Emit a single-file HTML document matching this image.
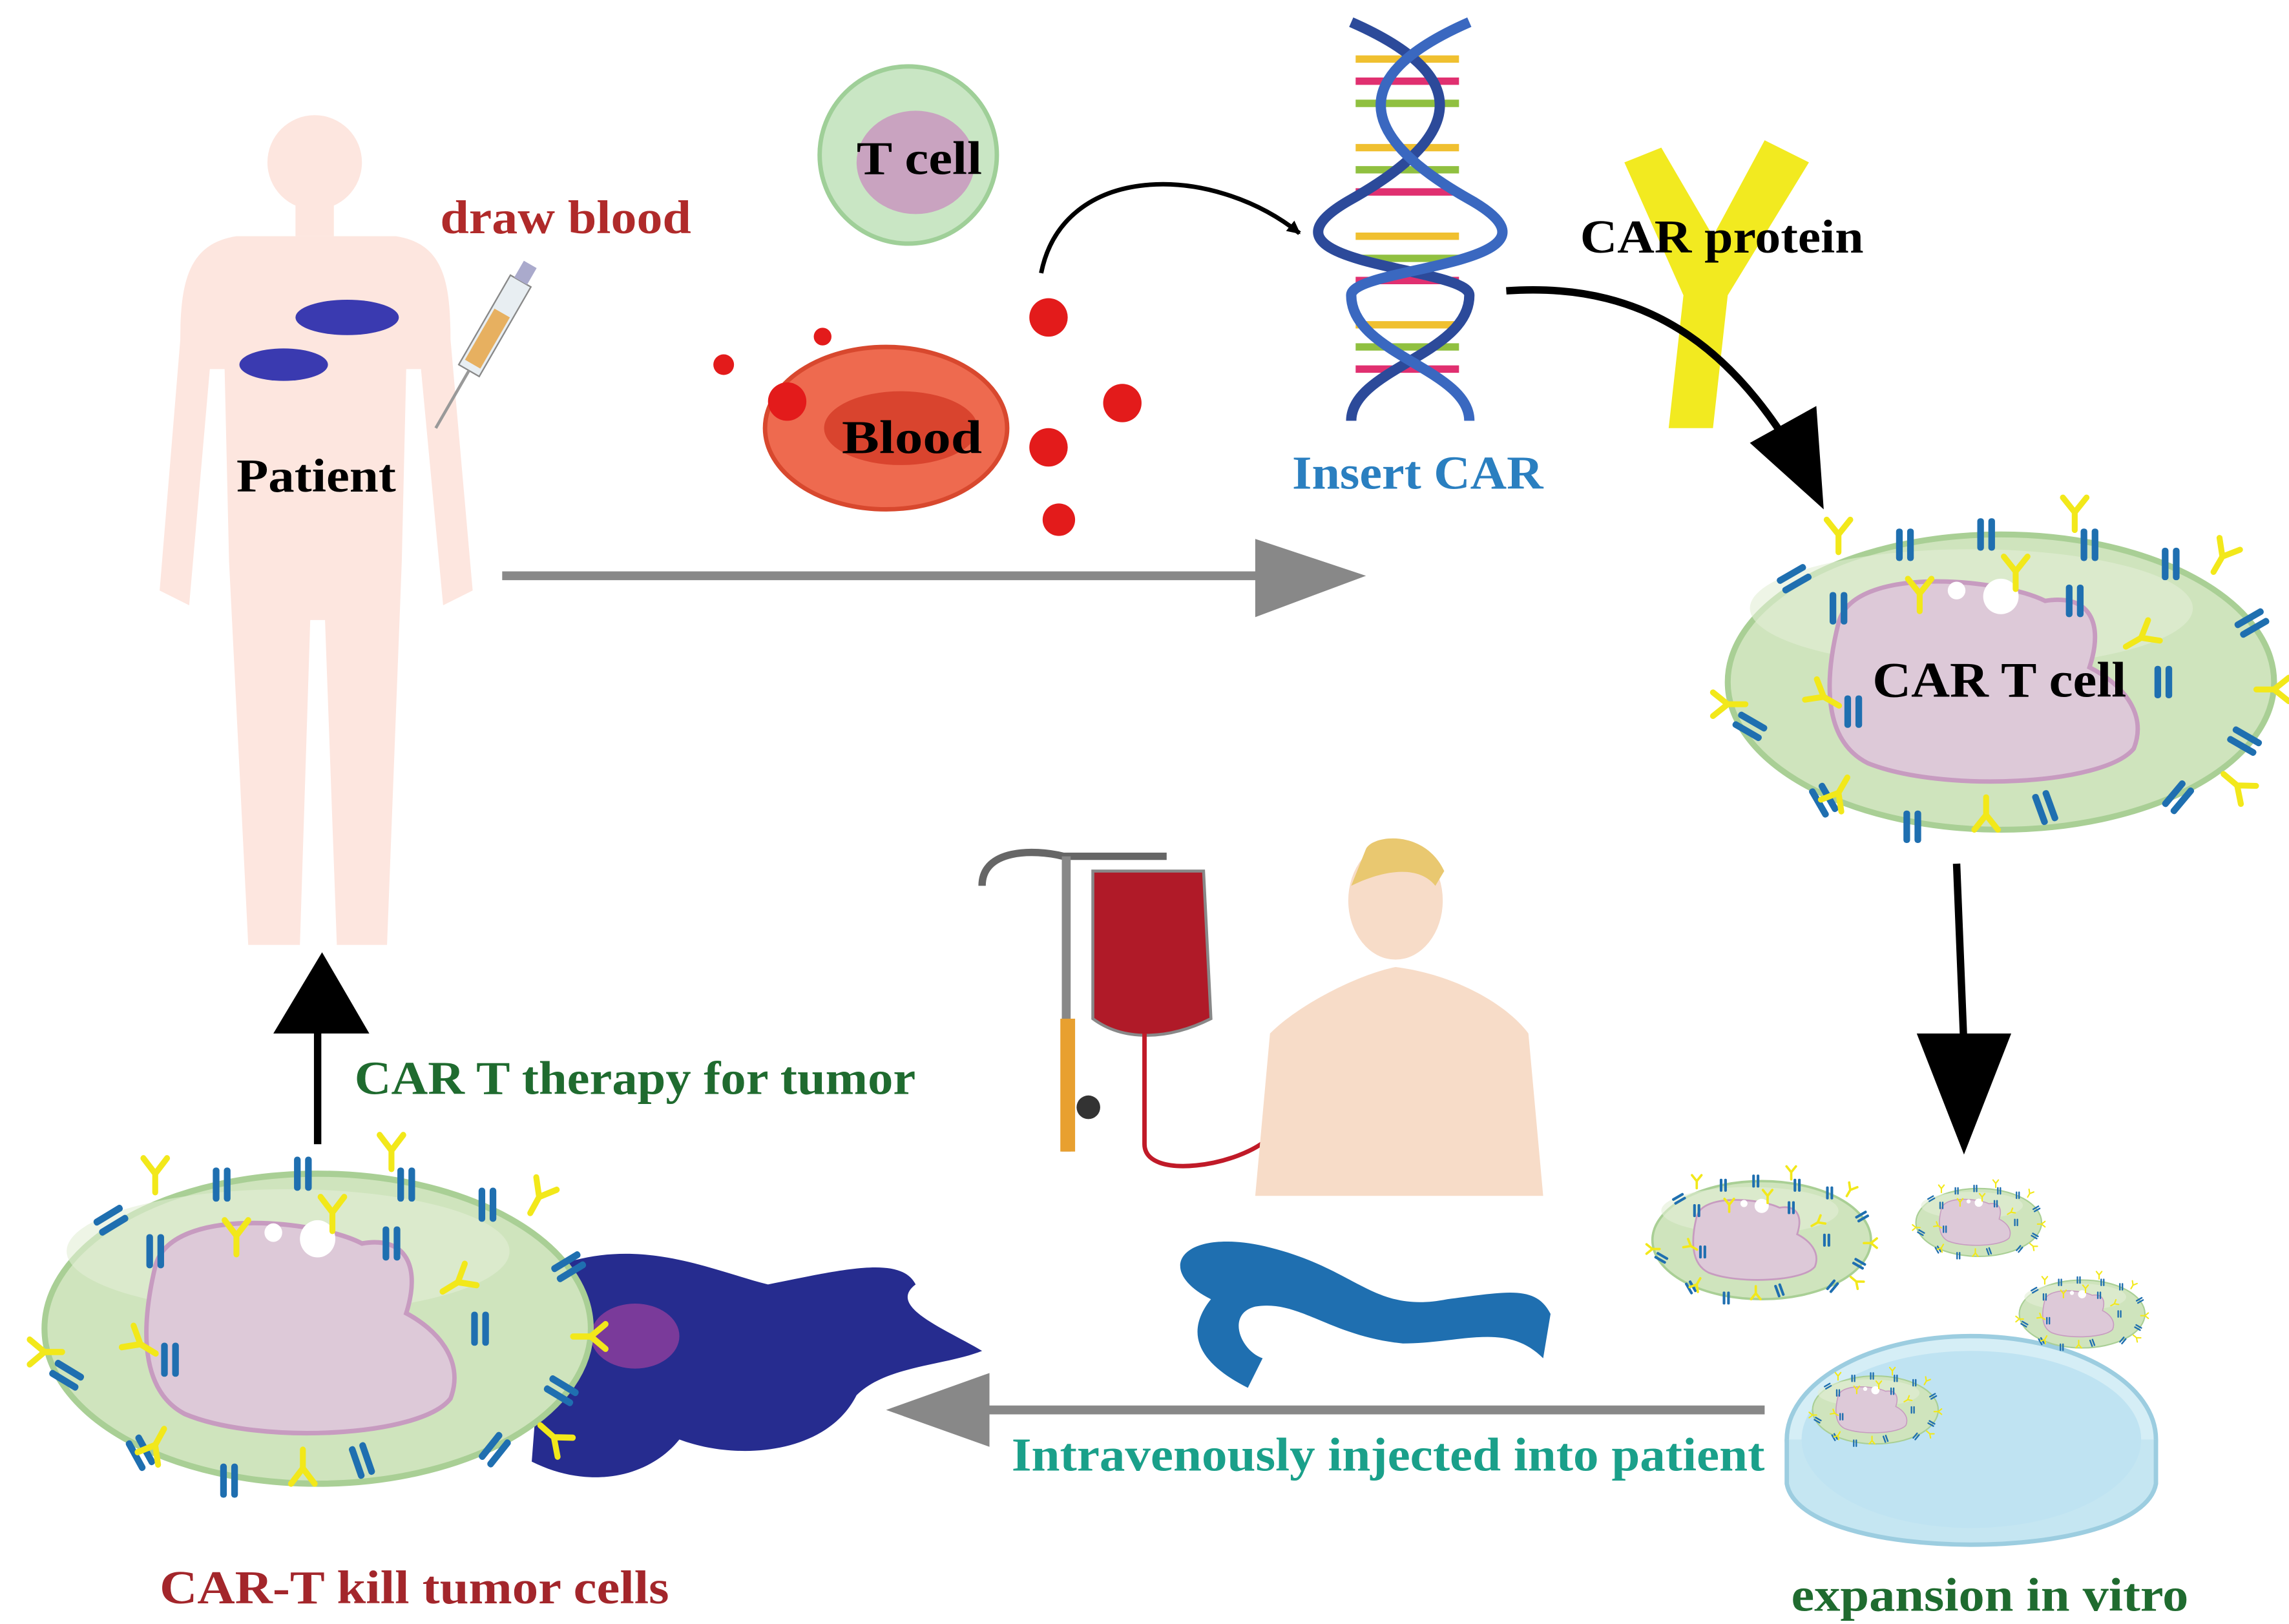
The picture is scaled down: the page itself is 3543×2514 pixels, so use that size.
<!DOCTYPE html>
<html><head><meta charset="utf-8"><style>
html,body{margin:0;padding:0;background:#fff;}
svg{display:block;}
text{font-family:"Liberation Serif",serif;font-weight:bold;}
</style></head><body>
<svg width="3543" height="2514" viewBox="0 0 1550 1100" xmlns="http://www.w3.org/2000/svg">
<defs>
<marker id="bk" viewBox="0 0 10 10" refX="9" refY="5" markerWidth="3" markerHeight="3" orient="auto"><path d="M0,0 L10,5 L0,10 z" fill="#000"/></marker>
<g id="rb"><rect x="-6" y="-11" width="4.5" height="22" rx="2" fill="#1f6fb0"/><rect x="1.5" y="-11" width="4.5" height="22" rx="2" fill="#1f6fb0"/></g>
<g id="ry"><path d="M0,12 L0,0 L-8,-10 M0,0 L8,-10" stroke="#f2e81a" stroke-width="4" fill="none" stroke-linecap="round"/></g>
<g id="cell">
 <ellipse cx="0" cy="0" rx="185" ry="100" fill="#cfe4bd" stroke="#a9cf95" stroke-width="4"/>
 <ellipse cx="-20" cy="-50" rx="150" ry="40" fill="#e2efd6" opacity="0.6"/>
 <path d="M-110,-40 C-100,-80 0,-70 30,-55 C60,-60 70,-40 60,-10 C80,0 100,20 90,45 C70,70 -40,75 -90,55 C-120,40 -120,0 -110,-40z" fill="#ddc9d8" stroke="#c79bc0" stroke-width="3"/>
 <circle cx="0" cy="-58" r="12" fill="#fff"/><circle cx="-30" cy="-62" r="6" fill="#fff"/>
 <use href="#rb" transform="translate(-140,-70) rotate(60)"/><use href="#rb" transform="translate(-65,-93)"/><use href="#rb" transform="translate(-10,-100)"/>
 <use href="#rb" transform="translate(60,-93)"/><use href="#rb" transform="translate(115,-80)"/><use href="#rb" transform="translate(170,-40) rotate(60)"/>
 <use href="#rb" transform="translate(-170,30) rotate(-60)"/><use href="#rb" transform="translate(-120,80) rotate(-30)"/><use href="#rb" transform="translate(-60,98)"/>
 <use href="#rb" transform="translate(30,85) rotate(-20)"/><use href="#rb" transform="translate(120,78) rotate(40)"/><use href="#rb" transform="translate(165,40) rotate(-60)"/>
 <use href="#rb" transform="translate(-110,-50)"/><use href="#rb" transform="translate(50,-55)"/><use href="#rb" transform="translate(110,0)"/><use href="#rb" transform="translate(-100,20)"/>
 <use href="#ry" transform="translate(-110,-100)"/><use href="#ry" transform="translate(50,-115)"/><use href="#ry" transform="translate(150,-85) rotate(30)"/>
 <use href="#ry" transform="translate(-185,15) rotate(-90)"/><use href="#ry" transform="translate(-110,75) rotate(-150)"/><use href="#ry" transform="translate(-10,90) rotate(180)"/>
 <use href="#ry" transform="translate(160,70) rotate(130)"/><use href="#ry" transform="translate(185,5) rotate(90)"/><use href="#ry" transform="translate(-55,-60)"/><use href="#ry" transform="translate(10,-75)"/><use href="#ry" transform="translate(95,-30) rotate(60)"/><use href="#ry" transform="translate(-120,10) rotate(-60)"/>
</g>
</defs>

<g fill="#fde6df">
<circle cx="213" cy="110" r="32"/>
<rect x="200" y="135" width="26" height="25"/>
<path d="M160,160 L268,160 C300,165 305,190 305,230 L320,400 L300,410 L285,250 L275,250 L272,380 L262,640 L228,640 L220,420 L210,420 L203,640 L168,640 L155,380 L152,250 L142,250 L128,410 L108,400 L122,230 C122,190 128,165 160,160z"/>
</g>
<g fill="#3a3ab0"><ellipse cx="235" cy="215" rx="35" ry="12"/><ellipse cx="192" cy="247" rx="30" ry="11"/></g>
<g transform="translate(325,238) rotate(30)"><rect x="-8" y="-55" width="16" height="70" fill="#e8eef2" stroke="#888"/><rect x="-6" y="-30" width="12" height="40" fill="#e7b060"/><line x1="0" y1="15" x2="0" y2="60" stroke="#999" stroke-width="2"/><rect x="-5" y="-68" width="10" height="13" fill="#aac"/></g>
<text x="298" y="158" font-size="32" fill="#b02a2a" textLength="170" lengthAdjust="spacingAndGlyphs">draw blood</text>
<text x="160" y="333" font-size="32" fill="#000" textLength="108" lengthAdjust="spacingAndGlyphs">Patient</text>

<circle cx="615" cy="105" r="60" fill="#c9e6c4" stroke="#9fcf98" stroke-width="3"/>
<ellipse cx="620" cy="110" rx="40" ry="35" fill="#c9a3c0"/>
<text x="580" y="118" font-size="32" textLength="85" lengthAdjust="spacingAndGlyphs">T cell</text>
<ellipse cx="600" cy="290" rx="82" ry="55" fill="#ee6a4f" stroke="#d8482e" stroke-width="3"/>
<ellipse cx="610" cy="290" rx="52" ry="25" fill="#d9442e"/>
<text x="570" y="307" font-size="32" textLength="95" lengthAdjust="spacingAndGlyphs">Blood</text>
<g fill="#e31b1b"><circle cx="490" cy="247" r="7"/><circle cx="557" cy="228" r="6"/><circle cx="533" cy="272" r="13"/><circle cx="710" cy="215" r="13"/><circle cx="760" cy="273" r="13"/><circle cx="710" cy="303" r="13"/><circle cx="717" cy="352" r="11"/></g>
<path d="M705,185 C720,110 820,110 880,158" stroke="#000" stroke-width="3" fill="none" marker-end="url(#bk)"/>

<g stroke-width="5">
<g stroke="#f0c030"><line x1="918" y1="40" x2="988" y2="40"/><line x1="918" y1="100" x2="988" y2="100"/><line x1="918" y1="160" x2="988" y2="160"/><line x1="918" y1="220" x2="988" y2="220"/></g>
<g stroke="#e03070"><line x1="918" y1="55" x2="988" y2="55"/><line x1="918" y1="130" x2="988" y2="130"/><line x1="918" y1="190" x2="988" y2="190"/><line x1="918" y1="250" x2="988" y2="250"/></g>
<g stroke="#90c040"><line x1="918" y1="70" x2="988" y2="70"/><line x1="918" y1="115" x2="988" y2="115"/><line x1="918" y1="175" x2="988" y2="175"/><line x1="918" y1="235" x2="988" y2="235"/></g>
<path d="M915,15 C995,50 995,90 915,135 C835,180 995,180 995,200 C995,240 915,250 915,285" stroke="#2c4a9a" stroke-width="7" fill="none"/>
<path d="M995,15 C915,50 915,90 995,135 C1075,180 915,180 915,200 C915,240 995,250 995,285" stroke="#3a68c0" stroke-width="7" fill="none"/>
</g>
<text x="875" y="331" font-size="32" fill="#2a7fc0" textLength="170" lengthAdjust="spacingAndGlyphs">Insert CAR</text>
<path d="M1130,290 L1140,200 L1100,110 L1125,100 L1160,160 L1195,95 L1225,110 L1170,200 L1160,290z" fill="#f2ea20"/>
<text x="1070" y="171" font-size="32" textLength="192" lengthAdjust="spacingAndGlyphs">CAR protein</text>
<path d="M1020,197 C1120,190 1180,240 1228,330" stroke="#000" stroke-width="5" fill="none"/>
<path d="M1185,300 L1235,345 L1230,275z" fill="#000"/>

<line x1="340" y1="390" x2="870" y2="390" stroke="#888" stroke-width="6"/>
<path d="M850,365 L925,390 L850,418z" fill="#888"/>

<use href="#cell" transform="translate(1355,462)"/>
<text x="1268" y="472" font-size="34" textLength="172" lengthAdjust="spacingAndGlyphs">CAR T cell</text>
<line x1="1325" y1="585" x2="1330" y2="710" stroke="#000" stroke-width="5"/>
<path d="M1298,700 L1330,782 L1362,700z" fill="#000"/>

<ellipse cx="1335" cy="975" rx="125" ry="70" fill="#d5eef6" stroke="#9ccde0" stroke-width="3"/>
<path d="M1210,975 L1210,1005 C1220,1060 1450,1060 1460,1005 L1460,975" fill="#c5e6f2" stroke="#9ccde0" stroke-width="3"/>
<ellipse cx="1335" cy="975" rx="115" ry="60" fill="#bfe3f2"/>
<use href="#cell" transform="translate(1193,840) scale(0.4)"/>
<use href="#cell" transform="translate(1340,828) scale(0.23)"/>
<use href="#cell" transform="translate(1410,890) scale(0.23)"/>
<use href="#cell" transform="translate(1270,955) scale(0.23)"/>
<text x="1213" y="1091" font-size="32" fill="#1f6b2f" textLength="269" lengthAdjust="spacingAndGlyphs">expansion in vitro</text>

<g>
<path d="M665,600 C665,575 700,575 720,580 L790,580" stroke="#666" stroke-width="5" fill="none"/>
<line x1="722" y1="580" x2="722" y2="780" stroke="#888" stroke-width="6"/>
<rect x="718" y="690" width="10" height="90" fill="#e8a030"/>
<circle cx="737" cy="750" r="8" fill="#333"/>
<path d="M740,590 L815,590 L820,690 C790,705 760,705 740,690z" fill="#b01a28" stroke="#888" stroke-width="2"/>
<path d="M775,700 L775,775 C775,800 840,790 860,770" stroke="#c01a28" stroke-width="3" fill="none"/>
<ellipse cx="945" cy="610" rx="32" ry="40" fill="#f7dcc8"/>
<path d="M925,575 C930,565 965,562 978,590 L972,600 C960,585 935,590 915,600z" fill="#e9c870"/>
<path d="M860,700 C880,680 920,660 945,655 C985,660 1020,680 1035,700 L1045,810 L850,810z" fill="#f7dcc8"/>
</g>
<path d="M820,880 C780,860 800,830 860,845 C920,860 930,890 980,880 C1020,875 1040,870 1050,890 L1045,920 C1020,895 990,910 950,910 C900,905 880,880 850,885 C830,890 840,915 855,920 L845,940 C815,925 800,905 820,880z" fill="#1f6fb0"/>
<text x="685" y="996" font-size="32" fill="#1aa08a" textLength="510" lengthAdjust="spacingAndGlyphs">Intravenously injected into patient</text>
<line x1="1195" y1="955" x2="655" y2="955" stroke="#888" stroke-width="6"/>
<path d="M670,930 L600,955 L670,980z" fill="#888"/>

<path d="M370,860 C430,835 480,860 520,870 C570,860 610,850 620,870 C600,885 640,900 665,915 C640,925 600,925 580,945 C560,985 500,990 460,975 C440,1000 400,1010 360,990 z" fill="#262c8f"/>
<ellipse cx="430" cy="905" rx="30" ry="22" fill="#7a3a9a"/>
<use href="#cell" transform="translate(215,900) scale(1,1.05)"/>
<text x="108" y="1086" font-size="32" fill="#a3262b" textLength="345" lengthAdjust="spacingAndGlyphs">CAR-T kill tumor cells</text>
<line x1="215" y1="775" x2="215" y2="695" stroke="#000" stroke-width="5"/>
<path d="M185,700 L218,645 L250,700z" fill="#000"/>
<text x="240" y="741" font-size="32" fill="#1f6b2f" textLength="380" lengthAdjust="spacingAndGlyphs">CAR T therapy for tumor</text>
</svg>
</body></html>
